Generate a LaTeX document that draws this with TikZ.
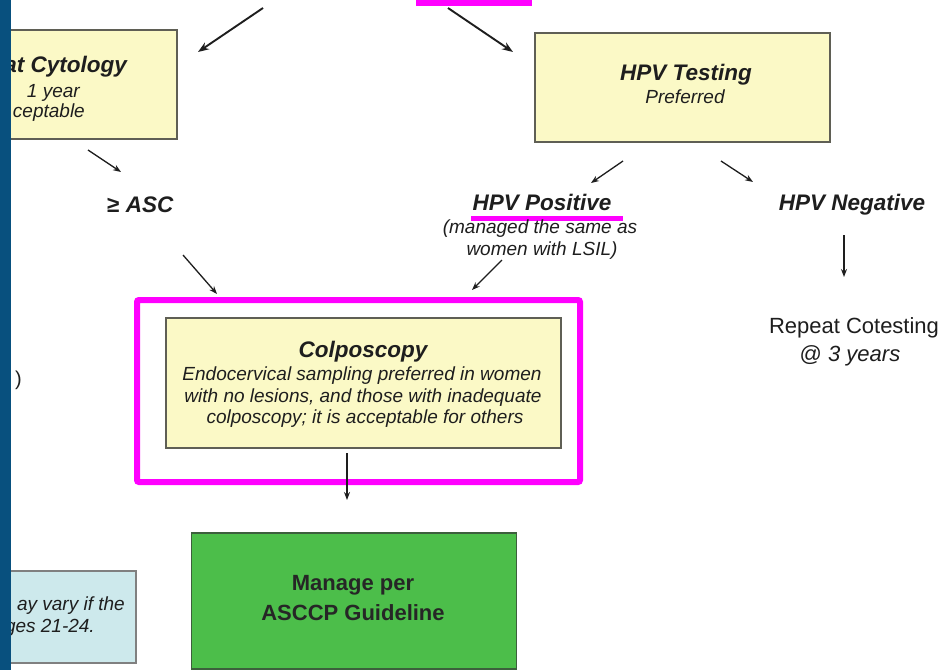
\documentclass[tikz,border=0pt]{standalone}
\usepackage{fontspec}
\setmainfont{Liberation Sans}
\usetikzlibrary{arrows.meta}
\definecolor{yel}{RGB}{251,249,198}
\definecolor{boxline}{RGB}{95,95,85}
\definecolor{grn}{RGB}{76,190,74}
\definecolor{grnline}{RGB}{60,95,60}
\definecolor{lblue}{RGB}{205,233,236}
\definecolor{barblue}{RGB}{8,80,126}
\definecolor{mag}{RGB}{255,0,255}
\definecolor{txt}{RGB}{30,30,30}
\tikzset{
  ybox/.style={draw=boxline, fill=yel, line width=1.2pt, rectangle, inner sep=0pt},
  gbox/.style={draw=grnline, fill=grn, line width=1.2pt, rectangle, inner sep=0pt},
  bbox/.style={draw=gray, fill=lblue, line width=1.2pt, rectangle, inner sep=0pt},
  ttl/.style={font=\bfseries\itshape\fontsize{22.5}{26}\selectfont, text=txt, anchor=base, inner sep=0pt},
  bdy/.style={font=\itshape\fontsize{19}{22}\selectfont, text=txt, anchor=base, inner sep=0pt},
  reg/.style={font=\fontsize{22}{26}\selectfont, text=txt, anchor=base, inner sep=0pt},
  arr/.style={-{Stealth[length=8pt,width=6pt]}, line width=1.3pt, draw=txt},
  arrb/.style={arr, line width=1.9pt, -{Stealth[length=11pt,width=8pt]}},
}
\begin{document}
\begin{tikzpicture}[x=1pt,y=-1pt]
\clip (0,0) rectangle (945,670);
\fill[white] (0,0) rectangle (945,670);

% boxes
\node[ybox, minimum width=182pt, minimum height=109pt] (cyto) at (86,84.5) {};
\node[ybox, minimum width=295pt, minimum height=109pt] (hpv) at (682.5,87.5) {};
\node[ybox, minimum width=395pt, minimum height=130pt] (colpo) at (363.5,383) {};
\node[gbox, minimum width=325.5pt, minimum height=136pt] (manage) at (354,601) {};
\node[bbox, minimum width=141pt, minimum height=92pt] (note) at (65.5,617) {};

% magenta highlights
\draw[mag, line width=6pt, rounded corners=2pt] (137,300) rectangle (580,482);
\fill[mag] (416,-5) rectangle (532,6);
\fill[mag] (471,216) rectangle (623,221);

% texts
\node[ttl, anchor=base east] (cytot) at (127,72) {at Cytology};
\node[bdy, anchor=base east] (cyto1) at (80,97) {1 year};
\node[bdy, anchor=base east] (cyto2) at (85,117) {ceptable};
\node[ttl, anchor=base west] (asc) at (107,212) {{\normalfont\bfseries ≥} ASC};

\node[ttl] (hpvt) at (686,80) {HPV Testing};
\node[bdy] (hpvp) at (685,103) {Preferred};

\node[ttl] (pos) at (542,210) {HPV Positive};
\node[bdy] (pos1) at (540,233) {(managed the same as};
\node[bdy] (pos2) at (542,255) {women with LSIL)};

\node[ttl] (neg) at (852,210) {HPV Negative};
\node[reg] (rep1) at (854,333) {Repeat Cotesting};
\node[reg] (rep2) at (850,361) {@ \textit{3 years}};

\node[ttl] (colt) at (363,357) {Colposcopy};
\node[bdy] (col1) at (362,380) {Endocervical sampling preferred in women};
\node[bdy] (col2) at (363,402) {with no lesions, and those with inadequate};
\node[bdy] (col3) at (365,423) {colposcopy; it is acceptable for others};

\node[reg, font=\bfseries\fontsize{22}{26}\selectfont, text=black!85] (man1) at (353,590) {Manage per};
\node[reg, font=\bfseries\fontsize{22}{26}\selectfont, text=black!85] (man2) at (353,620) {ASCCP Guideline};

\node[bdy, anchor=base east] (note1) at (125,610) {ay vary if the};
\node[bdy, anchor=base east] (note2) at (95,632) {ges 21-24.};
\node[reg, anchor=base east, font=\fontsize{20}{24}\selectfont] (frag) at (22,385) {)};

% arrows
\coordinate (a1s) at (263,8);   \coordinate (a1e) at (198,52);
\coordinate (a2s) at (448,8);   \coordinate (a2e) at (513,52);
\coordinate (a3s) at (88,150);  \coordinate (a3e) at (121,172);
\coordinate (a4s) at (183,255); \coordinate (a4e) at (217,294);
\coordinate (a5s) at (623,161); \coordinate (a5e) at (591,183);
\coordinate (a6s) at (721,161); \coordinate (a6e) at (753,182);
\coordinate (a7s) at (502,260); \coordinate (a7e) at (472,290);
\coordinate (a8s) at (844,235); \coordinate (a8e) at (844,277);
\coordinate (a9s) at (347,453); \coordinate (a9e) at (347,500);
\draw[arrb] (a1s) -- (a1e);
\draw[arrb] (a2s) -- (a2e);
\draw[arr] (a3s) -- (a3e);
\draw[arr] (a4s) -- (a4e);
\draw[arr] (a5s) -- (a5e);
\draw[arr] (a6s) -- (a6e);
\draw[arr] (a7s) -- (a7e);
\draw[arr] (a8s) -- (a8e);
\draw[arr] (a9s) -- (a9e);

% left blue bar
\fill[barblue] (0,0) rectangle (11,670);
\end{tikzpicture}
\end{document}
